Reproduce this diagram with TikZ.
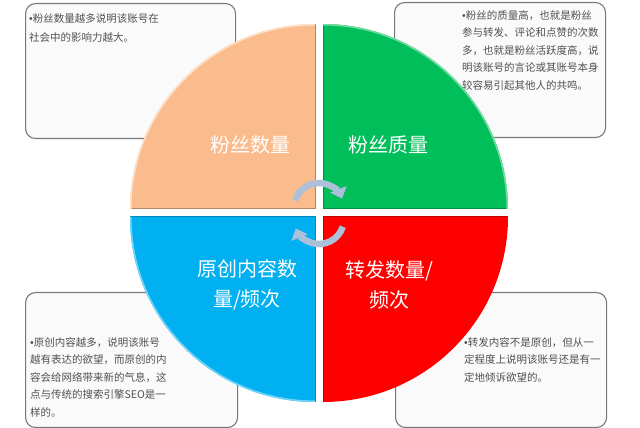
\documentclass[tikz,border=0pt]{standalone}
\usepackage{fontspec}
\setmainfont{Noto Sans CJK SC}
\newfontfamily\bulfont{Liberation Sans}
\newcommand\dotmark{{\bulfont •}}
\usetikzlibrary{arrows.meta}
\definecolor{peach}{RGB}{250,188,140}
\definecolor{leaf}{RGB}{0,190,90}
\definecolor{sky}{RGB}{0,176,240}
\definecolor{fire}{RGB}{255,0,0}
\definecolor{boxline}{RGB}{120,120,120}
\definecolor{boxfill}{RGB}{250,250,250}
\definecolor{boxtext}{RGB}{80,80,80}
\definecolor{turncol}{RGB}{172,192,218}

\begin{document}
\begin{tikzpicture}[x=1pt,y=1pt,
  notebox/.style={draw=boxline,fill=boxfill,line width=1.1pt,rounded corners=10pt,anchor=north west,inner sep=0pt},
  note/.style={inner sep=0pt,anchor=north west,align=left,text=boxtext,font=\fontsize{10.5}{17.5}\selectfont},
  quadtext/.style={inner sep=0pt,align=center,text=white,font=\fontsize{20}{30}\selectfont},
  turn/.style={turncol,line width=6.5pt,-{Triangle[width=17pt,length=10pt]}}]
\useasboundingbox (0,0) rectangle (640,428);
\fill[white] (0,0) rectangle (640,428);
% note boxes
\node[notebox,minimum width=210pt,minimum height=135pt] (tlbox) at (25,425) {};
\node[notebox,minimum width=211pt,minimum height=135pt] (trbox) at (394,426) {};
\node[notebox,minimum width=212pt,minimum height=135pt] (blbox) at (25,136) {};
\node[notebox,minimum width=211pt,minimum height=135pt] (brbox) at (395,136) {};
\node[note,font=\fontsize{10.5}{19}\selectfont] (tltext) at (29,415) {\dotmark 粉丝数量越多说明该账号在\\社会中的影响力越大。};
\node[note] (trtext) at (462,418) {\dotmark 粉丝的质量高，也就是粉丝\\参与转发、评论和点赞的次数\\多，也就是粉丝活跃度高，说\\明该账号的言论或其账号本身\\较容易引起其他人的共鸣。};
\node[note] (bltext) at (30,91) {\dotmark 原创内容越多，说明该账号\\越有表达的欲望，而原创的内\\容会给网络带来新的气息，这\\点与传统的搜索引擎SEO是一\\样的。};
\node[note] (brtext) at (464,91) {\dotmark 转发内容不是原创，但从一\\定程度上说明该账号还是有一\\定地倾诉欲望的。};
% quarters
\fill[peach] (315,219) -- (130,219) arc (180:90:185) -- cycle;
\fill[leaf] (323,219) -- (323,404) arc (90:0:185) -- cycle;
\fill[sky] (315,211) -- (130,211) arc (180:270:185) -- cycle;
\fill[fire] (323,211) -- (508,211) arc (0:-90:185) -- cycle;
\draw[peach!70!black,line width=1pt] (130,219) -- (315,219) -- (315,404);
\draw[leaf!75!black,line width=1pt] (323,404) -- (323,219) -- (508,219);
\draw[sky!75!black,line width=1pt] (130,211) -- (315,211) -- (315,26);
\draw[fire!75!black,line width=1pt] (508,211) -- (323,211) -- (323,26);
\draw[peach!45!white,line width=1.5pt] (130.8,219) arc (180:90:184.2);
\draw[leaf!55!white,line width=1.5pt] (323,403.2) arc (90:0:184.2);
\draw[sky!55!white,line width=1.5pt] (130.8,211) arc (180:270:184.2);
% labels
\node[quadtext] (fansnum) at (250,283) {粉丝数量};
\node[quadtext] (fansqual) at (388,283) {粉丝质量};
\node[quadtext] (original) at (247,143) {原创内容数\\量/频次};
\node[quadtext] (repost) at (389,143) {转发数量/\\频次};
% cycle arrows
\draw[turn] (319,220) ++(162:25) arc (162:22:25);
\draw[turn] (319,209) ++(-18:25) arc (-18:-158:25);
\end{tikzpicture}
\end{document}
